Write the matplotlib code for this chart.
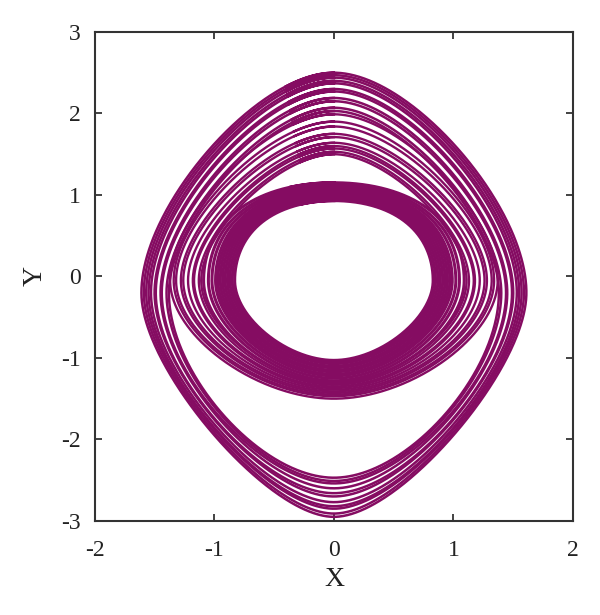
import numpy as np
import matplotlib
matplotlib.use("Agg")
import matplotlib.pyplot as plt

plt.rcParams["font.family"] = ["Liberation Serif", "DejaVu Serif"]
plt.rcParams["axes.unicode_minus"] = False

# loop extents (data units)
# inner ring: small loops around the origin
inner_top = [0.93, 0.95, 0.97, 0.99, 1.01, 1.03, 1.05, 1.07, 1.09, 1.11, 1.13, 1.15]
inner_side = [0.83, 0.85, 0.87, 0.89, 0.91, 0.93, 0.95, 0.97, 0.99, 1.02, 1.05, 1.09]
inner_bot = [-1.03, -1.05, -1.07, -1.10, -1.12, -1.15, -1.17, -1.20, -1.22, -1.25, -1.28, -1.31]

# big loops that close just under the inner ring
shallow_top = [1.50, 1.53, 1.57, 1.60, 1.64, 1.71, 1.75, 1.84, 1.90, 1.99]
shallow_side = [1.11, 1.13, 1.17, 1.18, 1.22, 1.26, 1.28, 1.32, 1.34, 1.37]
shallow_bot = [-1.30, -1.33, -1.35, -1.37, -1.39, -1.41, -1.43, -1.45, -1.47, -1.50]

# big loops that go round the lower lobe
deep_top = [2.03, 2.07, 2.15, 2.19, 2.27, 2.30, 2.37, 2.40, 2.44, 2.47, 2.50]
deep_side = [1.38, 1.40, 1.44, 1.45, 1.49, 1.50, 1.53, 1.55, 1.57, 1.59, 1.61]
deep_bot = [-2.47, -2.51, -2.54, -2.60, -2.66, -2.70, -2.77, -2.82, -2.85, -2.91, -2.95]
# roundness of the lower half (1 = ellipse, lower = more diamond-like)
deep_rd = [0.80, 0.78, 0.76, 0.74, 0.72, 0.70, 0.68, 0.67, 0.65, 0.63, 0.62]

color = "#850c62"


def loop(top, side, bot, yc, ru, rd):
    # blend of a diamond and an ellipse, upper and lower halves separately
    # (runs a little past one full turn so the ends overlap)
    t = np.linspace(0.5 * np.pi, 2.6 * np.pi, 840)
    c, s = np.cos(t), np.sin(t)
    r = np.where(s >= 0, ru, rd)
    x = side * ((1 - r) * np.sign(c) * c ** 2 + r * c)
    b = np.where(s >= 0, top - yc, yc - bot)
    y = yc + b * ((1 - r) * np.sign(s) * s ** 2 + r * s)
    return x, y


fig = plt.figure(figsize=(6, 6.15), dpi=100)
ax = fig.add_axes([0.158, 0.153, 0.797, 0.795])

for tp, sd, bt in zip(inner_top, inner_side, inner_bot):
    x, y = loop(tp, sd, bt, -0.05, 1.1, 0.85)
    ax.plot(x, y, color=color, lw=2.2)

for tp, sd, bt in zip(shallow_top, shallow_side, shallow_bot):
    x, y = loop(tp, sd, bt, -0.05, 0.72, 0.85)
    ax.plot(x, y, color=color, lw=1.7)

for tp, sd, bt, rd in zip(deep_top, deep_side, deep_bot, deep_rd):
    x, y = loop(tp, sd, bt, -0.2, 0.72, rd)
    ax.plot(x, y, color=color, lw=1.8)

ax.set_xlim(-2, 2)
ax.set_ylim(-3, 3)
ax.set_xticks([-2, -1, 0, 1, 2])
ax.set_yticks([-3, -2, -1, 0, 1, 2, 3])
ax.tick_params(direction="in", top=True, right=True, length=5, width=1.2, labelsize=17, colors="#222222")
ax.tick_params(axis="x", pad=14)
ax.tick_params(axis="y", pad=10)
for sp in ax.spines.values():
    sp.set_linewidth(1.5)
    sp.set_color("#333333")

ax.set_xlabel("X", fontsize=20, color="#222222", labelpad=4)
ax.set_ylabel("Y", fontsize=20, color="#222222", labelpad=10)

fig.savefig("out.png")
